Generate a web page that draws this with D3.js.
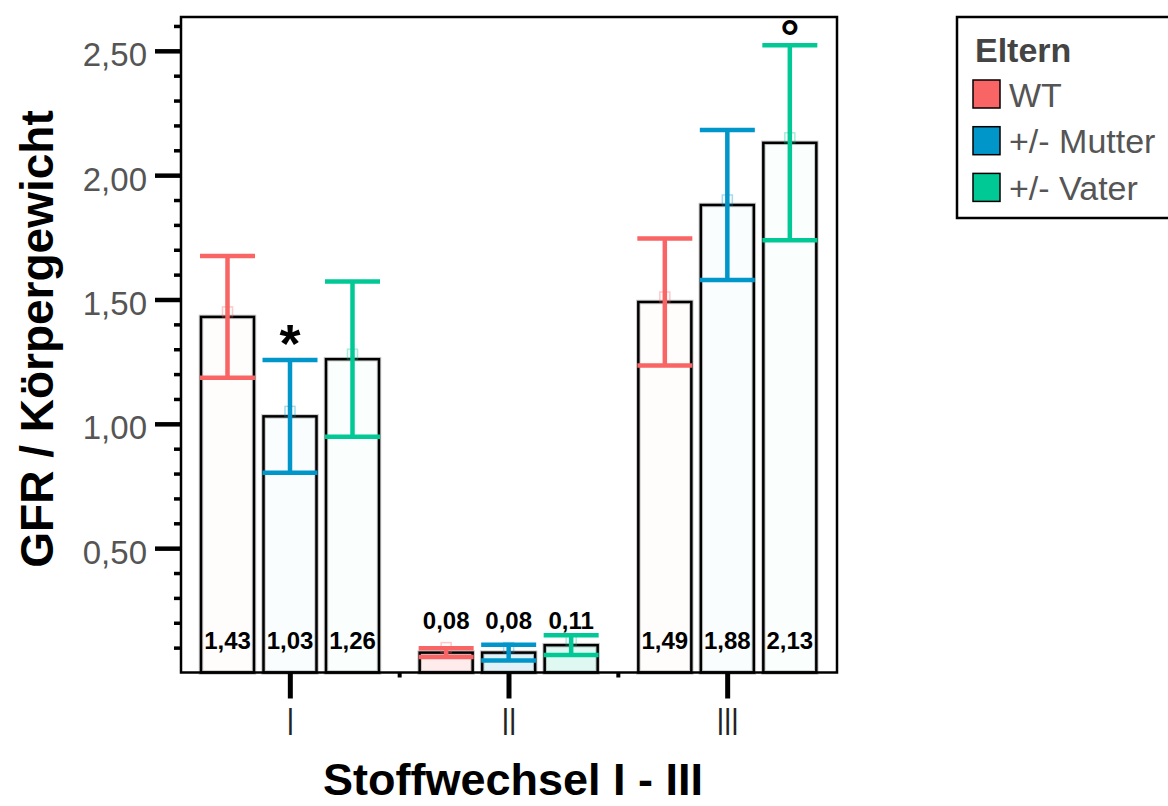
<!DOCTYPE html>
<html>
<head>
<meta charset="utf-8">
<script src="https://cdn.jsdelivr.net/npm/d3@7"></script>
<style>
  html, body { margin: 0; padding: 0; background: #fff; }
  svg { display: block; font-family: "Liberation Sans", Arial, sans-serif; }
</style>
</head>
<body>
<svg id="chart" width="1168" height="806"></svg>
<script>
// GFR per body weight by metabolism group and parental genotype
const categories = ["I", "II", "III"];
const seriesNames = ["WT", "+/- Mutter", "+/- Vater"];
const wtMeans = [1.43, 0.08, 1.49];
const mutterMeans = [1.03, 0.08, 1.88];
const vaterMeans = [1.26, 0.11, 2.13];
const wtErrors = [0.245, 0.018, 0.255];
const mutterErrors = [0.227, 0.032, 0.302];
const vaterErrors = [0.312, 0.040, 0.392];
const yTickValues = [0.5, 1.0, 1.5, 2.0, 2.5];
const yMax = 2.636;
const seriesColors = ["#f96465", "#0096c9", "#00c995"];
// significance marks above the error bars
const marks = [
  { category: "I", series: "+/- Mutter", symbol: "*", size: 54, dy: 2 },
  { category: "III", series: "+/- Vater", symbol: "\u00b0", size: 48, dy: 9 }
];

const means = [wtMeans, mutterMeans, vaterMeans];
const errors = [wtErrors, mutterErrors, vaterErrors];
const rows = categories.flatMap((c, i) =>
  seriesNames.map((s, j) => ({ category: c, series: s, value: means[j][i], err: errors[j][i] }))
);

const svg = d3.select("#chart");
const plot = { left: 181, right: 837, top: 17, bottom: 672.5 };

const x0 = d3.scaleBand().domain(categories).range([plot.left, plot.right]);
const x1 = d3.scaleBand().domain(seriesNames).range([20, 198]).paddingInner(0.152);
const y = d3.scaleLinear().domain([0, yMax]).range([plot.bottom, plot.top]);
const color = d3.scaleOrdinal().domain(seriesNames).range(seriesColors);
const fmt = d3.formatLocale({ decimal: ",", thousands: ".", grouping: [3], currency: ["", "\u20ac"] }).format(".2f");

const bw = x1.bandwidth();
const bx = d => x0(d.category) + x1(d.series);
const cx = d => bx(d) + bw / 2;

// bars
const bars = svg.append("g");
bars.selectAll("rect.halo").data(rows).join("rect")
  .attr("x", bx).attr("y", d => y(d.value))
  .attr("width", bw).attr("height", d => y(0) - y(d.value))
  .attr("fill", "none").attr("stroke", "#c8c8c8").attr("stroke-width", 4.5);
bars.selectAll("rect.bar").data(rows).join("rect")
  .attr("x", bx).attr("y", d => y(d.value))
  .attr("width", bw).attr("height", d => y(0) - y(d.value))
  .attr("fill", d => color(d.series))
  .attr("fill-opacity", d => (y(0) - y(d.value) < 60 ? 0.12 : 0.018))
  .attr("stroke", "#000").attr("stroke-width", 2.5);

// small mean markers on top of each bar
svg.append("g").selectAll("rect").data(rows).join("rect")
  .attr("x", d => cx(d) - 5).attr("y", d => y(d.value) - 10)
  .attr("width", 10).attr("height", 10)
  .attr("fill", "none").attr("stroke", d => color(d.series))
  .attr("stroke-opacity", 0.35).attr("stroke-width", 1.5);

// error bars
const eb = svg.append("g").selectAll("g").data(rows).join("g")
  .attr("stroke", d => color(d.series)).attr("stroke-width", 4.5);
eb.append("line")
  .attr("x1", cx).attr("x2", cx)
  .attr("y1", d => y(d.value + d.err)).attr("y2", d => y(d.value - d.err));
eb.append("line")
  .attr("x1", d => bx(d) - 1).attr("x2", d => bx(d) + bw + 1)
  .attr("y1", d => y(d.value + d.err)).attr("y2", d => y(d.value + d.err));
eb.append("line")
  .attr("x1", d => bx(d) - 1).attr("x2", d => bx(d) + bw + 1)
  .attr("y1", d => y(d.value - d.err)).attr("y2", d => y(d.value - d.err));

// value labels: inside the bar foot, or above short bars
svg.append("g").selectAll("text").data(rows).join("text")
  .attr("x", cx)
  .attr("y", d => (y(0) - y(d.value) < 60 ? y(0) - 43.5 : y(0) - 23.5))
  .attr("text-anchor", "middle")
  .attr("font-size", 24).attr("font-weight", "bold").attr("fill", "#000")
  .text(d => fmt(d.value));

// significance marks
svg.append("g").selectAll("text").data(marks).join("text")
  .attr("x", m => x0(m.category) + x1(m.series) + bw / 2)
  .attr("y", m => {
    const r = rows.find(d => d.category === m.category && d.series === m.series);
    return y(r.value + r.err) + m.dy;
  })
  .attr("text-anchor", "middle")
  .attr("font-size", m => m.size).attr("font-weight", "bold").attr("fill", "#000")
  .text(m => m.symbol);

// frame
svg.append("rect")
  .attr("x", plot.left).attr("y", plot.top)
  .attr("width", plot.right - plot.left).attr("height", plot.bottom - plot.top)
  .attr("fill", "none").attr("stroke", "#000").attr("stroke-width", 2.5);

// y axis: minor ticks every 0.1, labelled major ticks every 0.5
const minorTicks = d3.range(1, Math.floor(yMax * 10) + 1).map(i => i / 10)
  .filter(v => Math.abs(v * 2 - Math.round(v * 2)) > 1e-6);
const yMinor = svg.append("g").attr("transform", `translate(${plot.left},0)`)
  .call(d3.axisLeft(y).tickValues(minorTicks).tickSize(7).tickFormat(""));
yMinor.select(".domain").remove();
yMinor.selectAll(".tick line").attr("stroke-width", 3.5);

const yMajor = svg.append("g").attr("transform", `translate(${plot.left},0)`)
  .call(d3.axisLeft(y).tickValues(yTickValues).tickSize(26).tickPadding(8).tickFormat(fmt));
yMajor.select(".domain").remove();
yMajor.selectAll(".tick line").attr("stroke-width", 4.5);
yMajor.selectAll(".tick text")
  .attr("font-family", "Liberation Sans, Arial, sans-serif")
  .attr("font-size", 33).attr("fill", "#555").attr("dy", "0.45em");

// x axis
const xAxis = svg.append("g").attr("transform", `translate(0,${plot.bottom})`)
  .call(d3.axisBottom(x0).tickSize(26).tickPadding(9));
xAxis.select(".domain").remove();
xAxis.selectAll(".tick line").attr("stroke-width", 5);
xAxis.selectAll(".tick text")
  .attr("font-family", "Liberation Sans, Arial, sans-serif")
  .attr("font-size", 39).attr("fill", "#222")
  .attr("textLength", d => d.length * 7.35)
  .attr("lengthAdjust", "spacingAndGlyphs");

// short ticks on the group boundaries
svg.append("g").selectAll("line").data(categories.slice(1)).join("line")
  .attr("x1", d => x0(d)).attr("x2", d => x0(d))
  .attr("y1", plot.bottom).attr("y2", plot.bottom + 5)
  .attr("stroke", "#000").attr("stroke-width", 4);

// axis titles
svg.append("text")
  .attr("transform", "translate(53,339) rotate(-90)")
  .attr("text-anchor", "middle")
  .attr("font-size", 46).attr("font-weight", "bold").attr("fill", "#000")
  .text("GFR / K\u00f6rpergewicht");

svg.append("text")
  .attr("x", 513).attr("y", 795)
  .attr("text-anchor", "middle")
  .attr("font-size", 45).attr("font-weight", "bold").attr("fill", "#000")
  .text("Stoffwechsel I - III");

// legend
const legend = svg.append("g");
legend.append("rect")
  .attr("x", 957).attr("y", 17).attr("width", 220).attr("height", 201)
  .attr("fill", "#fff").attr("stroke", "#000").attr("stroke-width", 2.5);
legend.append("text")
  .attr("x", 975).attr("y", 62)
  .attr("font-size", 34).attr("font-weight", "bold").attr("fill", "#444")
  .text("Eltern");
const items = legend.selectAll("g.item").data(seriesNames).join("g")
  .attr("transform", (d, i) => `translate(0,${i * 46.7})`);
items.append("rect")
  .attr("x", 973).attr("y", 80).attr("width", 27).attr("height", 28)
  .attr("fill", d => color(d)).attr("stroke", "#000").attr("stroke-width", 1.5);
items.append("text")
  .attr("x", 1009).attr("y", 106.5)
  .attr("font-size", 34).attr("fill", "#555")
  .text(d => d);
</script>
</body>
</html>
